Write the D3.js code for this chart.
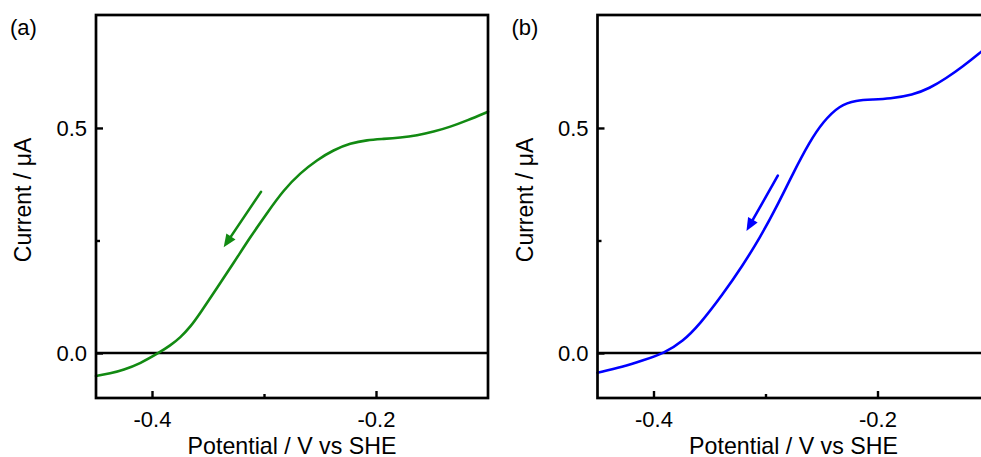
<!DOCTYPE html>
<html><head><meta charset="utf-8">
<script src="https://cdn.jsdelivr.net/npm/d3@7"></script>
<style>
body{margin:0;background:#fff}
svg{display:block}
text{font-family:"Liberation Sans",Arial,Helvetica,sans-serif;fill:#000}
</style>
</head><body>
<svg id="c" width="981" height="457"></svg>
<script>
// ---- data ----
const potentialA = [-0.45,-0.4372,-0.4256,-0.4104,-0.3941,-0.3836,-0.3747,-0.3658,-0.3569,-0.342,-0.3271,-0.3122,-0.2973,-0.2825,-0.2676,-0.2527,-0.2379,-0.223,-0.208,-0.1932,-0.1783,-0.1634,-0.1486,-0.1337,-0.1187,-0.1];
const currentA   = [-0.0511,-0.0456,-0.0378,-0.0233,0.0,0.0167,0.0344,0.0578,0.0889,0.1444,0.2,0.2578,0.3111,0.3622,0.4,0.4289,0.4511,0.4659,0.4733,0.4756,0.4785,0.4835,0.4915,0.5025,0.5165,0.536];
const potentialB = [-0.45,-0.4274,-0.4096,-0.3902,-0.3738,-0.3589,-0.3381,-0.3203,-0.3054,-0.2904,-0.2756,-0.2607,-0.2488,-0.2339,-0.219,-0.2042,-0.1893,-0.1685,-0.1536,-0.1387,-0.1238,-0.1089,-0.1];
const currentB   = [-0.0438,-0.0311,-0.0167,0.0,0.0258,0.0631,0.1304,0.1949,0.2542,0.3229,0.3984,0.4689,0.5133,0.5504,0.5616,0.5633,0.5649,0.5733,0.588,0.6104,0.6367,0.6662,0.6849];
const arrowA = [[-0.3027,0.358],[-0.336,0.235]];
const arrowB = [[-0.289,0.394],[-0.317,0.271]];
const xMajorTicks = [-0.4,-0.2];
const xMinorTicks = [-0.3];
const yMajorTicks = [0.0,0.5];
const yMinorTicks = [0.25];
const panelLabels = ["(a)","(b)"];
const xTitle = "Potential / V vs SHE";
const yTitle = "Current / \u03bcA";
const xDomain = [-0.45,-0.1];
const yDomain = [-0.1,0.751];

const svg = d3.select("#c");
const W = 392, H = 383;

function panel(left, potential, current, color, arrow, label){
  const g = svg.append("g").attr("transform",`translate(${left},15)`);
  const x = d3.scaleLinear().domain(xDomain).range([0,W]);
  const y = d3.scaleLinear().domain(yDomain).range([H,0]);

  // zero line
  g.append("line").attr("x1",0).attr("x2",W).attr("y1",y(0)).attr("y2",y(0))
    .attr("stroke","#000").attr("stroke-width",2.5);

  // curve
  const line = d3.line().x((d,i)=>x(potential[i])).y((d,i)=>y(current[i])).curve(d3.curveBasis);
  g.append("path").attr("d",line(potential)).attr("fill","none")
    .attr("stroke",color).attr("stroke-width",2.6).attr("stroke-linecap","round");

  // arrow
  const x0=x(arrow[0][0]), y0=y(arrow[0][1]), x1=x(arrow[1][0]), y1=y(arrow[1][1]);
  const dx=x1-x0, dy=y1-y0, L=Math.hypot(dx,dy), ux=dx/L, uy=dy/L;
  const hl=13, hw=5.5;
  const bx=x1-ux*hl, by=y1-uy*hl;
  g.append("line").attr("x1",x0).attr("y1",y0).attr("x2",bx+ux*2).attr("y2",by+uy*2)
    .attr("stroke",color).attr("stroke-width",2.6).attr("stroke-linecap","round");
  g.append("path").attr("d",`M${x1},${y1}L${bx-uy*hw},${by+ux*hw}L${bx+uy*hw},${by-ux*hw}Z`)
    .attr("fill",color);

  // frame
  g.append("rect").attr("x",0).attr("y",0).attr("width",W).attr("height",H)
    .attr("fill","none").attr("stroke","#000").attr("stroke-width",2.7);

  // axes with inward ticks
  const xa = g.append("g").attr("transform",`translate(0,${H})`)
    .call(d3.axisBottom(x).tickValues(xMajorTicks).tickSize(-7).tickPadding(13).tickFormat(d3.format(".1f")));
  const xm = g.append("g").attr("transform",`translate(0,${H})`)
    .call(d3.axisBottom(x).tickValues(xMinorTicks).tickSize(-4).tickFormat(""));
  const ya = g.append("g")
    .call(d3.axisLeft(y).tickValues(yMajorTicks).tickSize(-7).tickPadding(9).tickFormat(d3.format(".1f")));
  const ym = g.append("g")
    .call(d3.axisLeft(y).tickValues(yMinorTicks).tickSize(-4).tickFormat(""));
  [xa,xm,ya,ym].forEach(a=>{
    a.select(".domain").remove();
    a.selectAll(".tick line").attr("stroke","#000").attr("stroke-width",2.4);
    a.selectAll("text").attr("font-size",22).attr("font-family","Liberation Sans, Arial, sans-serif").attr("fill","#000");
  });
  xa.selectAll("text").text(d=>d3.format(".1f")(d).replace("\u2212","-"));

  // titles
  g.append("text").attr("x",W/2).attr("y",438.5).attr("text-anchor","middle")
    .attr("font-size",23.2).text(xTitle);
  g.append("text").attr("transform",`translate(-65,${185}) rotate(-90)`).attr("text-anchor","middle")
    .attr("font-size",23).text(yTitle);
  g.append("text").attr("x",-86).attr("y",20).attr("font-size",22).text(label);
}

panel(96, potentialA, currentA, "#128a12", arrowA, panelLabels[0]);
panel(597.5, potentialB, currentB, "#0000ff", arrowB, panelLabels[1]);
</script>
</body></html>
